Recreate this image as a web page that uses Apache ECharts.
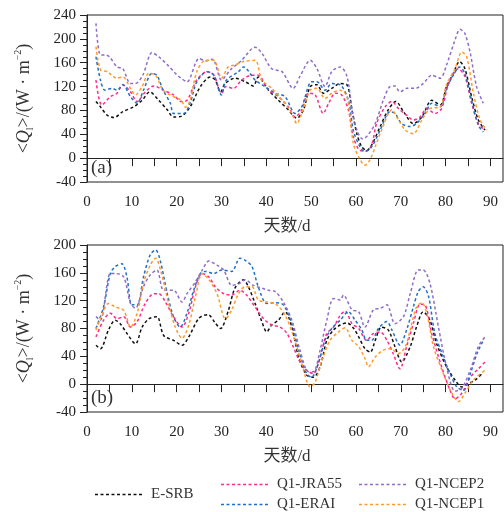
<!DOCTYPE html>
<html><head><meta charset="utf-8">
<script src="https://cdn.jsdelivr.net/npm/echarts@6/dist/echarts.min.js"></script>
<style>html,body{margin:0;padding:0;background:#fff}#c{width:504px;height:512px}</style>
</head><body><div id="c"></div>
<script>
// ---- Data: [day, <Q1> W·m^-2] ----
// Panel (a)
const esrbA = [[2,95],[3,86],[4.5,72],[6,68],[8,78],[10.4,86],[12.3,97],[14,111],[16,97],[17.9,81],[19.3,69],[21,70],[23,86],[25.3,120],[27.5,136],[28.6,131],[29.8,111],[30.8,125],[33,134],[35.3,128],[37.1,121],[38.2,136],[40.5,114],[42.7,97],[44.9,81],[46.8,67],[48.3,81],[49.8,120],[51.3,123],[52.7,109],[54.6,117],[56.5,125],[58,123],[59.1,81],[60.2,41],[61.3,19],[62.4,13],[63.5,22],[65.4,53],[67.2,81],[68.9,95],[70.6,78],[72.8,58],[74.7,69],[76.9,97],[78.8,89],[80.2,120],[81.7,142],[83.1,162],[84.3,150],[85.8,103],[87.3,64],[88.8,47]];
const jraA = [[2,131],[3.3,89],[5.2,103],[6.7,109],[8,123],[9.7,111],[11.2,95],[13,111],[14.9,121],[17,114],[19.3,106],[21,95],[22.3,97],[24.5,131],[26.8,145],[28.3,139],[30,109],[31,120],[32.7,117],[34.5,131],[36.8,139],[38.2,139],[40.5,114],[42.7,103],[44.9,86],[46.4,69],[47.9,81],[49.4,109],[50.9,106],[52.7,75],[53.9,92],[55.4,109],[56.8,106],[58.3,81],[59.4,36],[60.9,13],[62.2,12],[63.5,22],[64.6,58],[66.5,86],[68,95],[69.5,83],[71.3,72],[72.8,64],[74.3,69],[75.8,83],[77.6,75],[79.1,83],[80.6,123],[82.8,150],[84.3,137],[85.8,92],[87.3,58],[88.8,47]];
const eraiA = [[2,170],[3,131],[4,114],[5.6,117],[6.7,114],[8,123],[9.7,103],[11.2,92],[12.6,114],[14.5,142],[15.6,139],[17,114],[18.6,92],[19.3,75],[21.6,75],[23,92],[24.5,128],[26.8,145],[28.3,139],[30,106],[31,130],[33.8,145],[34.9,153],[37.5,131],[39.7,120],[42,109],[44.2,103],[46.4,75],[47.9,86],[50.1,128],[51.3,128],[53.1,114],[54.6,125],[56.5,123],[58.3,97],[59.4,47],[60.9,19],[62,11],[63.5,19],[65.4,47],[67.6,78],[68.7,75],[70.2,58],[72.1,53],[73.5,58],[75.4,75],[76.9,92],[78.8,86],[80.2,117],[81.7,139],[83.1,153],[84.3,142],[85.8,97],[87.3,55],[88.4,44]];
const ncep2A = [[2,226],[3,173],[4.1,173],[5,170],[6.7,153],[8,150],[9.7,125],[10.8,125],[12.5,140],[14.5,177],[16,170],[18,156],[20,140],[21,134],[22.3,128],[25,167],[26.5,163],[28,166],[30,131],[32,148],[34.5,164],[37.5,186],[39,176],[41.2,150],[43.5,145],[46,117],[47.5,137],[49.8,164],[51.3,150],[53.1,120],[54.6,145],[56.5,153],[58,137],[59.2,78],[60.3,45],[61.5,32],[62.6,38],[64.3,58],[66.1,97],[67.6,120],[68.7,121],[69.8,111],[71.3,117],[73.2,117],[75,125],[76.9,139],[78.8,134],[80.2,156],[82.1,198],[83.2,216],[84.3,209],[85.5,176],[86.9,120],[88.4,92]];
const ncep1A = [[2,187],[3,148],[4.5,145],[6.7,134],[8,136],[9.7,117],[10.8,106],[12.3,120],[13.8,142],[15.3,139],[17,114],[19.3,103],[21,97],[22,85],[23,97],[24.5,145],[26.4,164],[28.3,164],[30,134],[31.5,153],[33,156],[34.9,162],[37.5,164],[39,131],[41.2,117],[43.8,95],[45.7,75],[46.8,58],[47.9,75],[49.8,114],[51.3,117],[53.1,100],[54.6,109],[56.5,114],[58,103],[59.4,25],[60.6,2],[62,-12],[63.1,-3],[64.3,19],[65.7,47],[68,81],[69.5,64],[71,47],[72.8,41],[74.7,64],[76.5,83],[78.8,86],[80.2,123],[82.1,150],[83.6,178],[84.7,170],[86.2,109],[87.7,64],[89.2,47]];
// Panel (b)
const esrbB = [[2,56],[3,51],[4.8,78],[6.3,92],[7.4,87],[8.9,73],[10.8,58],[12.3,82],[13.8,94],[15.6,97],[17.1,70],[19.3,63],[21.2,56],[22.7,68],[25,95],[27,100],[28.6,88],[29.8,80],[31.5,105],[33,138],[34.9,150],[36,140],[37.5,116],[39,90],[40.1,75],[41.2,85],[42.7,92],[44.2,104],[45.7,82],[47.2,39],[49,13],[50.5,10],[52,25],[53.5,63],[55,78],[56.5,85],[58,88],[59.5,80],[60.6,68],[62,51],[63.2,46],[64.3,63],[65.7,82],[67.2,78],[68.7,54],[70.2,32],[72.1,54],[73.5,82],[75,104],[76.5,92],[78,58],[80.2,25],[82.1,6],[83.6,-4],[85.1,1],[86.6,6],[88.1,15]];
const jraB = [[2,68],[3.7,92],[5.2,102],[6.7,94],[8.2,97],[9.7,82],[11.2,90],[13,116],[14.9,130],[16,130],[17.5,118],[19.3,97],[21.2,82],[22.7,102],[24.2,140],[25.7,159],[27.2,154],[28.6,140],[30.5,130],[32.3,128],[34.1,135],[35.6,128],[37.5,111],[39.4,94],[41.2,85],[43.1,82],[44.6,73],[46,54],[47.5,32],[49,20],[50.5,15],[52,39],[53.5,73],[55,82],[56.5,99],[57.6,105],[59.1,87],[60.6,80],[62.4,63],[63.9,73],[65.4,75],[66.9,63],[68.3,44],[69.8,22],[71.3,54],[72.8,87],[74.3,115],[75.4,114],[76.9,73],[79.1,25],[81,-9],[82.1,-21],[83.6,-13],[85.5,10],[87.3,22],[88.8,32]];
const eraiB = [[2,80],[3.7,111],[5.2,159],[6.3,169],[7.8,173],[8.9,154],[10,114],[11.2,114],[12.6,154],[14.1,186],[15.3,193],[16.4,176],[17.9,130],[19.3,97],[20.8,82],[22.3,102],[23.8,135],[25.3,159],[26.4,162],[28.3,159],[30.1,164],[32.3,162],[34.1,181],[35.3,178],[36.8,169],[38.2,140],[40.1,116],[42,117],[43.8,114],[45.7,87],[47.2,49],[49,15],[50.1,10],[51.6,30],[53.1,63],[54.6,80],[56.5,92],[58.3,104],[59.8,92],[61.3,78],[62.4,63],[63.5,63],[65,80],[66.9,90],[68,78],[69.8,56],[71.3,78],[72.8,111],[73.9,133],[75,140],[76.2,126],[77.6,73],[79.5,39],[81,15],[82.5,-4],[84,-9],[85.5,15],[87,44],[88.4,63]];
const ncep2B = [[2,97],[3,92],[5.2,159],[6.3,159],[8.2,154],[9.7,116],[10.8,109],[12.6,140],[14.1,157],[15.6,164],[17.1,135],[19.3,135],[21.2,118],[22.3,130],[24.2,147],[25.7,164],[27.2,177],[29,171],[30.5,164],[32.3,142],[34.1,145],[35.3,150],[37.1,142],[39,138],[40.5,135],[42,133],[43.8,118],[45.7,92],[47.5,49],[49.4,18],[50.5,18],[52,49],[53.5,92],[55,123],[56.5,121],[57.2,128],[59.1,107],[60.6,104],[62,82],[63.9,107],[65.4,109],[66.9,114],[68.7,87],[70.6,97],[72.1,130],[73.9,164],[75,164],[76.5,145],[78.4,82],[80.2,25],[82.1,-10],[83.6,-6],[85.5,20],[87.3,54],[88.8,68]];
const ncep1B = [[2,78],[3.3,99],[4.8,116],[6.3,111],[8.2,106],[9.7,82],[11.2,102],[12.6,145],[14.1,171],[15.3,181],[16.4,164],[18.2,116],[19.7,82],[21.2,66],[22.7,85],[24.2,126],[25.7,159],[27.2,150],[29,130],[30.9,94],[32.3,107],[33.8,130],[35.3,140],[36.8,140],[38.2,121],[40.1,118],[42,116],[44.2,99],[46,70],[47.9,30],[49.8,-4],[50.9,3],[52.4,34],[54.2,63],[56.1,75],[57.6,81],[59.1,63],[60.6,54],[62,37],[62.8,25],[64.3,39],[66.1,49],[67.6,51],[69.5,44],[71,54],[72.1,78],[73.5,111],[74.7,117],[75.8,102],[77.3,54],[79.5,15],[81.4,-13],[82.9,-25],[84.3,-13],[86.2,6],[88.8,20]];

const seriesNames = ['E-SRB','Q1-JRA55','Q1-ERAI','Q1-NCEP2','Q1-NCEP1'];
const seriesColors = ['#111111','#ff2a8c','#1f6fc4','#8f6cc8','#ff9a2a'];
const panelA = [esrbA, jraA, eraiA, ncep2A, ncep1A];
const panelB = [esrbB, jraB, eraiB, ncep2B, ncep1B];
const xTicks = [0,5,10,15,20,25,30,35,40,45,50,55,60,65,70,75,80,85,90];
const xLabels = [0,10,20,30,40,50,60,70,80,90];
const yTicksA = [-40, 240, 40];
const yTicksB = [-40, 200, 40];

const FONT = "'Liberation Serif','Noto Sans CJK SC',serif";
const chart = echarts.init(document.getElementById('c'), null, {renderer:'canvas'});

function xAxis(gi){
  return {
    gridIndex: gi, type:'value', min:0, max:92.8,
    name:'天数/d', nameLocation:'middle', nameGap:36,
    nameTextStyle:{fontFamily:FONT, fontSize:17, color:'#333', padding:[0,16,0,0]},
    axisLine:{show:true, lineStyle:{color:'#222', width:1}},
    axisTick:{show:true, length:8, customValues:xTicks, lineStyle:{color:'#222'}},
    axisLabel:{customValues:xLabels, margin:13, fontFamily:FONT, fontSize:15, color:'#222'},
    splitLine:{show:false}
  };
}
function yAxis(gi, t){
  return {
    gridIndex: gi, type:'value', min:t[0], max:t[1], interval:t[2],
    name:'<{q|Q}{sub|l}>/(W · m{sup|−2})', nameLocation:'middle', nameRotate:90, nameGap:52,
    nameTextStyle:{fontFamily:FONT, fontSize:18, color:'#333', lineHeight:22,
      rich:{
        q:{fontFamily:FONT, fontStyle:'italic', fontSize:18, color:'#333', lineHeight:22},
        sub:{fontFamily:FONT, fontSize:10, color:'#333', verticalAlign:'bottom', lineHeight:22},
        sup:{fontFamily:FONT, fontSize:10, color:'#333', verticalAlign:'top', lineHeight:14}
      }},
    axisLine:{show:true, lineStyle:{color:'#222', width:1}},
    axisTick:{show:true, length:7, lineStyle:{color:'#222'}},
    minorTick:{show:true, splitNumber:4, length:4, lineStyle:{color:'#222'}},
    axisLabel:{margin:11, fontFamily:FONT, fontSize:15, color:'#222'},
    splitLine:{show:false}
  };
}
function mkSeries(arrs, gi){
  return arrs.map((d,i)=>({
    name: seriesNames[i], type:'line', xAxisIndex:gi, yAxisIndex:gi,
    data:d, smooth:0.3, showSymbol:false, symbol:'none',
    lineStyle:{color:seriesColors[i], width:1.5, type:[3,2.5]},
    itemStyle:{color:seriesColors[i]}, z: 2+i
  }));
}
// dashed-line legend icon (9 dashes)
let dashPath = 'path://';
for (let k=0;k<9;k++){ dashPath += 'M'+(k*5.5)+' 0h3v1.5h-3z'; }
function legendAt(name, left, top){
  return {
    data:[{name:name, icon:dashPath}], left:left, top:top,
    itemWidth:47, itemHeight:14, symbolKeepAspect:true,
    textStyle:{fontFamily:FONT, fontSize:15, color:'#333', padding:[0,0,0,4]},
    selectedMode:false
  };
}
chart.setOption({
  animation:false,
  backgroundColor:'#fff',
  grid:[
    {left:87, top:15, width:416, height:167, show:true, borderColor:'#222', borderWidth:1, backgroundColor:'transparent'},
    {left:87, top:245, width:416, height:167, show:true, borderColor:'#222', borderWidth:1, backgroundColor:'transparent'}
  ],
  xAxis:[xAxis(0), xAxis(1)],
  yAxis:[yAxis(0, yTicksA), yAxis(1, yTicksB)],
  legend:[
    legendAt('E-SRB', 90, 482),
    legendAt('Q1-JRA55', 216, 472),
    legendAt('Q1-ERAI', 216, 492),
    legendAt('Q1-NCEP2', 354, 472),
    legendAt('Q1-NCEP1', 354, 492)
  ],
  graphic:[
    {type:'text', left:91, top:159, style:{text:'(a)', fontFamily:FONT, fontSize:19, fill:'#333'}},
    {type:'text', left:91, top:389, style:{text:'(b)', fontFamily:FONT, fontSize:19, fill:'#333'}}
  ],
  series:[...mkSeries(panelA,0), ...mkSeries(panelB,1)]
});
</script></body></html>
